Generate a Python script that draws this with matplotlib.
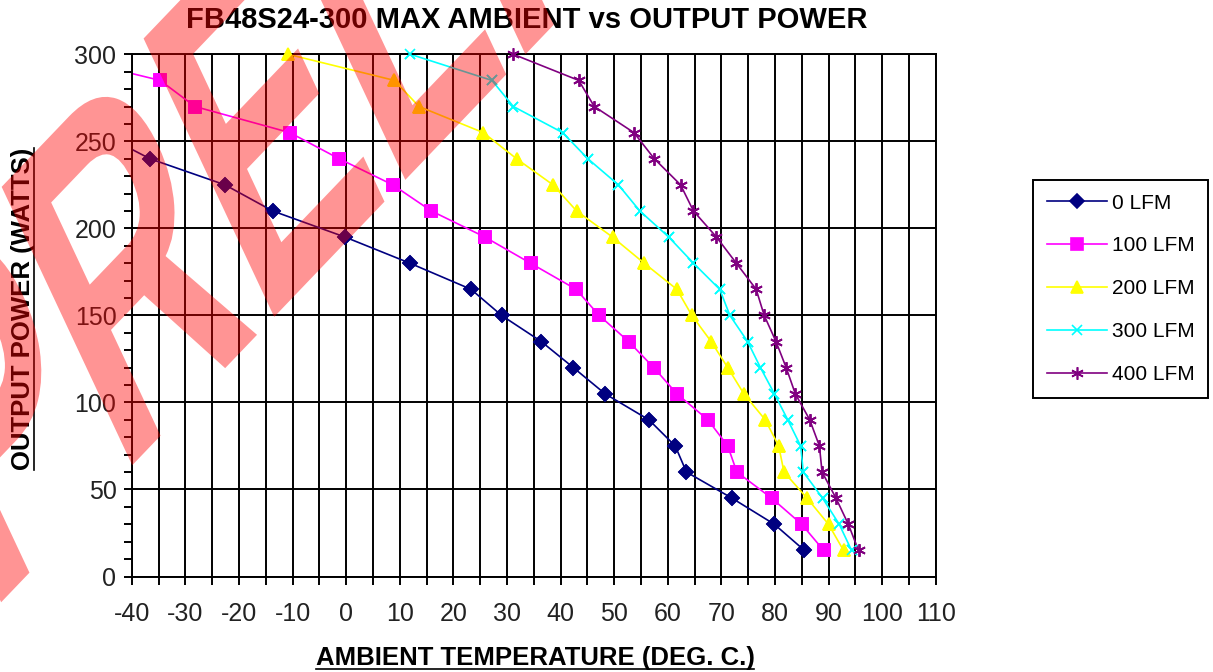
import numpy as np
import matplotlib
matplotlib.use("Agg")
import matplotlib.pyplot as plt
from matplotlib.lines import Line2D
from matplotlib.patches import PathPatch
from matplotlib.textpath import TextPath
from matplotlib.font_manager import FontProperties
from matplotlib.transforms import Affine2D
from matplotlib.ticker import MultipleLocator

# -------------------------------------------------------------------------
# Data (ambient deg C vs output watts)
# -------------------------------------------------------------------------
labels = ["0 LFM", "100 LFM", "200 LFM", "300 LFM", "400 LFM"]

watts_0 = [255, 240, 225, 210, 195, 180, 165, 150, 135, 120, 105, 90, 75, 60, 45, 30, 15]
temp_0 = [-46.0, -36.6, -22.6, -13.7, -0.2, 11.9, 23.3, 29.0, 36.4, 42.4, 48.3,
          56.5, 61.4, 63.5, 72.0, 79.9, 85.5]

watts_air = [300, 285, 270, 255, 240, 225, 210, 195, 180, 165, 150, 135, 120, 105,
             90, 75, 60, 45, 30, 15]
temp_100 = [-54.7, -34.7, -28.2, -10.5, -1.3, 8.7, 15.9, 25.9, 34.4, 42.9, 47.2,
            52.7, 57.4, 61.7, 67.5, 71.2, 72.9, 79.4, 85.0, 89.1]
temp_200 = [-10.8, 9.0, 13.6, 25.6, 31.8, 38.6, 43.0, 49.7, 55.6, 61.7, 64.5,
            68.1, 71.2, 74.2, 78.2, 80.7, 81.7, 86.0, 90.0, 92.8]
temp_300 = [12.0, 27.2, 31.2, 40.4, 45.1, 50.8, 54.8, 60.2, 64.8, 69.7, 71.6,
            74.9, 77.3, 79.9, 82.4, 84.8, 85.3, 88.9, 92.0, 94.3]
temp_400 = [31.2, 43.4, 46.3, 53.7, 57.5, 62.4, 64.8, 69.1, 72.8, 76.5, 78.0,
            80.2, 82.1, 83.8, 86.5, 88.3, 88.8, 91.4, 93.7, 95.6]

series = [
    (temp_0, watts_0, "#000080", "D", 7),
    (temp_100, watts_air, "#FF00FF", "s", 8),
    (temp_200, watts_air, "#FFFF00", "^", 9),
    (temp_300, watts_air, "#00FFFF", "x", 7),
    (temp_400, watts_air, "#800080", (6, 2, 0), 9),
]

XMIN, XMAX = -40, 110

plt.rcParams["axes.unicode_minus"] = False
sans = ["Liberation Sans", "DejaVu Sans"]

fig = plt.figure(figsize=(12.13, 6.72), dpi=100)
ax = fig.add_axes([0.1086, 0.1421, 0.6628, 0.7771])

for (tx, wy, col, mk, ms), lab in zip(series, labels):
    tx = np.array(tx)
    wy = np.array(wy)
    ax.plot(tx, wy, color=col, lw=1.2, marker=mk, ms=ms, mew=1.2,
            mec=col, mfc=col, label=lab)
    # markers sitting on the frame edge stay whole
    keep = tx >= XMIN
    ax.plot(tx[keep], wy[keep], ls="none", marker=mk, ms=ms, mew=1.2,
            mec=col, mfc=col, clip_on=False, zorder=3)

ax.set_xlim(XMIN, XMAX)
ax.set_ylim(0, 300)
ax.xaxis.set_major_locator(MultipleLocator(10))
ax.xaxis.set_minor_locator(MultipleLocator(5))
ax.yaxis.set_major_locator(MultipleLocator(50))
ax.yaxis.set_minor_locator(MultipleLocator(10))
ax.grid(True, which="major", axis="y", color="black", lw=1.4)
ax.grid(True, which="both", axis="x", color="black", lw=1.4)
ax.set_axisbelow(True)
for s in ax.spines.values():
    s.set_linewidth(1.4)
ax.tick_params(which="both", direction="out", length=6, width=1.4, color="black")
ax.tick_params(axis="x", which="major", pad=12)
ax.tick_params(axis="y", which="major", pad=5)
for t in ax.get_xticklabels() + ax.get_yticklabels():
    t.set_family(sans)
    t.set_fontsize(18)
    t.set_color("#222222")

fig.text(527 / 1213, 1 - 20 / 672, "FB48S24-300 MAX AMBIENT vs OUTPUT POWER",
         ha="center", va="center", fontsize=21, fontweight="bold", family=sans)

ylab = fig.text(23 / 1213, 1 - 309 / 672, "OUTPUT POWER (WATTS)", rotation=90,
                ha="center", va="center", fontsize=18.5, fontweight="bold", family=sans)
xlab = fig.text(535 / 1213, 1 - 658 / 672, "AMBIENT TEMPERATURE (DEG. C.)",
                ha="center", va="center", fontsize=18.5, fontweight="bold", family=sans)

leg = fig.legend(loc="upper left", bbox_to_anchor=(1033 / 1213, 1 - 180 / 672),
                 fontsize=15, frameon=True, fancybox=False, framealpha=1,
                 edgecolor="black", handlelength=2.9, handletextpad=0.25,
                 labelspacing=1.15, borderpad=0.65, borderaxespad=0)
leg.get_frame().set_linewidth(1.4)
for t in leg.get_texts():
    t.set_family(sans)

# big translucent watermark: condensed, tilted, then squeezed sideways (pixel coords)
wm = TextPath((0, 0), "PRELIMINARY", size=494,
              prop=FontProperties(family=sans, weight="bold"))
wm_tr = (Affine2D().scale(0.725, 1.0).rotate_deg(35)
         .scale(0.67, 1.0).translate(-12, 56))
fig.add_artist(PathPatch(wm, transform=wm_tr, facecolor=(1, 0, 0, 0.42),
                         edgecolor="none", zorder=10))

# underline both axis titles
fig.canvas.draw()
r = fig.canvas.get_renderer()
W, H = fig.bbox.width, fig.bbox.height
bb = xlab.get_window_extent(r)
fig.add_artist(Line2D([bb.x0 / W, bb.x1 / W], [(bb.y0 + 1) / H] * 2, color="black", lw=1.2))
bb = ylab.get_window_extent(r)
fig.add_artist(Line2D([(bb.x1 - 1) / W] * 2, [bb.y0 / H, bb.y1 / H], color="black", lw=1.2))

fig.savefig("out.png", dpi=100)
